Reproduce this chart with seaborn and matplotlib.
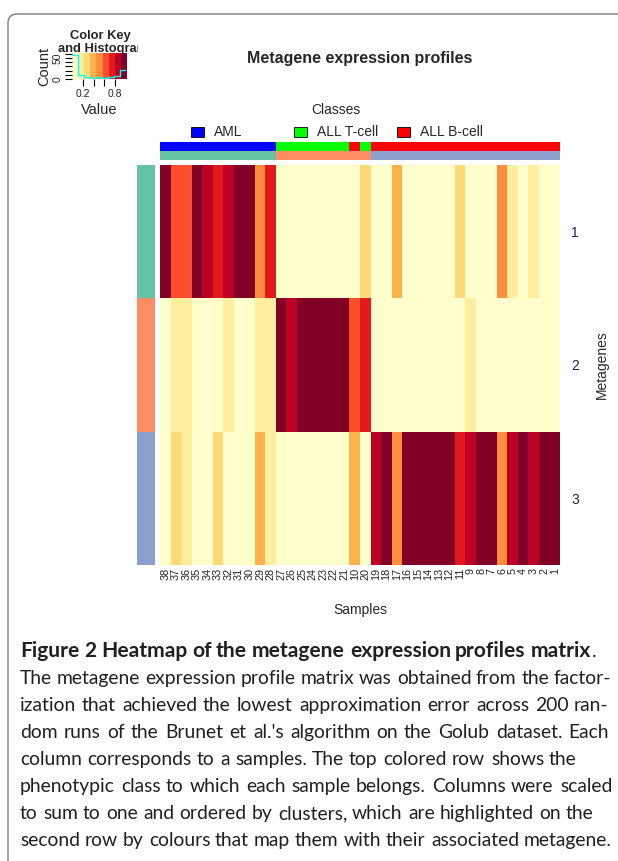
import numpy as np
import pandas as pd
import matplotlib
matplotlib.use("Agg")
import matplotlib.pyplot as plt
import seaborn as sns
from matplotlib.colors import ListedColormap
from matplotlib.patches import Rectangle, FancyBboxPatch
from matplotlib.transforms import Bbox, TransformedBbox

# ---------------- data ----------------
samples = ["38", "37", "36", "35", "34", "33", "32", "31", "30", "29", "28",
           "27", "26", "25", "24", "23", "22", "21", "10", "20",
           "19", "18", "17", "16", "15", "14", "13", "12", "11",
           "9", "8", "7", "6", "5", "4", "3", "2", "1"]
metagenes = ["1", "2", "3"]

metagene1 = [0.97, 0.61, 0.61, 0.97, 0.83, 0.72, 0.83, 0.97, 0.97, 0.50, 0.72,
             0.03, 0.03, 0.03, 0.03, 0.03, 0.03, 0.03, 0.03, 0.27,
             0.03, 0.03, 0.38, 0.03, 0.03, 0.03, 0.03, 0.03, 0.27,
             0.03, 0.03, 0.03, 0.50, 0.16, 0.03, 0.16, 0.03, 0.03]
metagene2 = [0.03, 0.16, 0.16, 0.03, 0.03, 0.03, 0.16, 0.03, 0.03, 0.16, 0.16,
             0.97, 0.83, 0.97, 0.97, 0.97, 0.97, 0.97, 0.61, 0.72,
             0.03, 0.03, 0.03, 0.03, 0.03, 0.03, 0.03, 0.03, 0.03,
             0.16, 0.03, 0.03, 0.03, 0.03, 0.03, 0.03, 0.03, 0.03]
metagene3 = [0.03, 0.27, 0.16, 0.03, 0.03, 0.27, 0.03, 0.03, 0.03, 0.38, 0.16,
             0.03, 0.03, 0.03, 0.03, 0.03, 0.03, 0.03, 0.38, 0.03,
             0.83, 0.97, 0.50, 0.97, 0.97, 0.97, 0.97, 0.97, 0.72,
             0.83, 0.97, 0.97, 0.50, 0.83, 0.97, 0.83, 0.97, 0.97]

classes = (["AML"] * 11 + ["ALL T-cell"] * 7 + ["ALL B-cell"] + ["ALL T-cell"]
           + ["ALL B-cell"] * 18)
clusters = [1] * 11 + [2] * 9 + [3] * 18
class_names = ["AML", "ALL T-cell", "ALL B-cell"]
class_colors = ["#0000FF", "#00FF00", "#FF0000"]
cluster_colors = ["#66C2A5", "#FC8D62", "#8DA0CB"]
ylorrd9 = ["#FFFFCC", "#FFEDA0", "#FED976", "#FEB24C", "#FD8D3C",
           "#FC4E2A", "#E31A1C", "#BD0026", "#800026"]

caption_bold = "Figure 2 Heatmap of the metagene expression profiles matrix"
caption_lines = [
    "The metagene expression profile matrix was obtained from the factor-",
    "ization that achieved the lowest approximation error across 200 ran-",
    "dom runs of the Brunet et al.'s algorithm on the Golub dataset. Each",
    "column corresponds to a samples. The top colored row shows the",
    "phenotypic class to which each sample belongs. Columns were scaled",
    "to sum to one and ordered by clusters, which are highlighted on the",
    "second row by colours that map them with their associated metagene.",
]

# ---------------- figure ----------------
sns.set_theme(style="white")
plt.rcParams["font.family"] = ["Liberation Sans", "DejaVu Sans"]
W, H = 618, 861
fig = plt.figure(figsize=(W / 100, H / 100), dpi=100)
fig.patch.set_facecolor("white")


def px_axes(x0, y0, x1, y1, **kw):
    return fig.add_axes([x0 / W, 1 - y1 / H, (x1 - x0) / W, (y1 - y0) / H], **kw)


# overlay in pixel coordinates (for frame, titles, legend, caption)
ov = px_axes(0, 0, W, H)
ov.set_xlim(0, W)
ov.set_ylim(H, 0)
ov.axis("off")
ov.set_zorder(-1)

frame = FancyBboxPatch((8, 14), 800, 1000, boxstyle="round,pad=0,rounding_size=9",
                       fc="none", ec="#7a7a7a", lw=1.0)
ov.add_patch(frame)

cmap = ListedColormap(ylorrd9)

# main heatmap
ax = px_axes(160, 165, 560, 565)
df = pd.DataFrame([metagene1, metagene2, metagene3], index=metagenes, columns=samples)
sns.heatmap(df, cmap=cmap, vmin=0, vmax=1, cbar=False, ax=ax,
            xticklabels=True, yticklabels=True)
ax.tick_params(length=0)
ax.set_xticklabels(samples, rotation=90, fontsize=7.8, va="top", ha="center")
ax.tick_params(axis="x", pad=2)
ax.yaxis.tick_right()
ax.set_yticklabels(metagenes, rotation=0, fontsize=10)
ax.tick_params(axis="y", pad=8)
ax.set_xlabel("Samples", fontsize=10)
ax.xaxis.set_label_coords(0.5, -(610 - 565) / 400)
ax.xaxis.label.set_va("center")
ax.yaxis.set_label_position("right")
ax.set_ylabel("Metagenes", fontsize=10, rotation=90)
ax.yaxis.set_label_coords((602 - 160) / 400, 0.5)
ax.yaxis.label.set_va("center")

# column annotations (classes, clusters)
aax = px_axes(160, 142, 560, 160)
codes = np.array([[class_names.index(c) for c in classes],
                  [2 + k for k in clusters]])
sns.heatmap(pd.DataFrame(codes, columns=samples), cmap=ListedColormap(class_colors + cluster_colors),
            vmin=-0.5, vmax=5.5, cbar=False, ax=aax, xticklabels=False, yticklabels=False)

# row side colors
rax = px_axes(137, 165, 155, 565)
sns.heatmap(pd.DataFrame({"c": [0, 1, 2]}, index=metagenes), cmap=ListedColormap(cluster_colors),
            vmin=-0.5, vmax=2.5, cbar=False, ax=rax, xticklabels=False, yticklabels=False)

# color key + histogram
kax = px_axes(72, 53, 126, 79)
all_vals = np.concatenate([metagene1, metagene2, metagene3])
kax.imshow(np.arange(9).reshape(1, -1), cmap=cmap, extent=(0, 1, 0, 62), aspect="auto",
           origin="lower", vmin=-0.5, vmax=8.5)
sns.histplot(x=all_vals, bins=np.linspace(0, 1, 10), element="step", fill=False,
             color="cyan", lw=1.0, ax=kax)
kax.set_xlim(0, 1)
kax.set_ylim(0, 62)
for s in kax.spines.values():
    s.set_visible(False)
kax.set_xticks([0.2, 0.4, 0.6, 0.8])
kax.set_xticklabels(["0.2", "", "", "0.8"], fontsize=7.5)
kax.set_yticks([0, 10, 20, 30, 40, 50, 60])
kax.set_yticklabels(["0", "", "", "", "", "50", ""], fontsize=7.5, rotation=90, va="center")
kax.tick_params(axis="both", length=5, width=0.8, color="black", pad=2,
                bottom=True, left=True)
kax.set_xlabel("Value", fontsize=10.5)
kax.xaxis.set_label_coords(0.5, -(110 - 79) / 26)
kax.xaxis.label.set_va("center")
kax.set_ylabel("Count", fontsize=10.5)
kax.yaxis.set_label_coords((44 - 72) / 54, 0.5)
kax.yaxis.label.set_va("center")

ov.text(100, 36, "Color Key", fontsize=9.3, fontweight="bold", ha="center", va="center")
t_hist = ov.text(103, 49, "and Histogram", fontsize=9.3, fontweight="bold", ha="center",
                 va="center")
t_hist.set_clip_box(TransformedBbox(Bbox([[0, 0], [138, H]]), ov.transData))
t_hist.set_clip_on(True)

# main title
ov.text(360, 58, "Metagene expression profiles", fontsize=11.5, fontweight="bold",
        ha="center", va="center")

# legend for classes
ov.text(336, 110, "Classes", fontsize=10, ha="center", va="center")
leg_x = [191, 294, 397]
for x, name, col in zip(leg_x, class_names, class_colors):
    ov.add_patch(Rectangle((x, 127), 13, 10, fc=col, ec="black", lw=0.6))
    ov.text(x + 23, 132, name, fontsize=10, ha="left", va="center")

# caption
fig.canvas.draw()
renderer = fig.canvas.get_renderer()
cap_family = ["Lato", "DejaVu Sans"]


def text_width(s, fs, weight):
    t = ov.text(0, 0, s, fontsize=fs, fontweight=weight, family=cap_family)
    w = t.get_window_extent(renderer).width
    t.remove()
    return w


def place_words(line, x0, target, y, fs, weight):
    words = line.split(" ")
    texts = [ov.text(0, y, w, fontsize=fs, fontweight=weight, family=cap_family,
                     ha="left", va="baseline", color="#231f20") for w in words]
    widths = [t.get_window_extent(renderer).width for t in texts]
    gap = (target - sum(widths)) / max(len(words) - 1, 1)
    x = x0
    for t, w in zip(texts, widths):
        t.set_x(round(x))
        x += w + gap
    return x - gap


fs = 12.0 * 592 / text_width(caption_lines[0], 12.0, "normal")
wb = text_width(caption_bold, fs, "bold")
fs_b = fs * min(1.15, 571 / wb)
xend = place_words(caption_bold, 20, 571, 657, fs_b, "bold")
ov.text(xend + 1, 657, ".", fontsize=fs, family=cap_family, ha="left", va="baseline",
        color="#231f20")
targets = [592, 589, 589, 557, 592, 574, 592]
for i, (line, tw) in enumerate(zip(caption_lines, targets)):
    place_words(line, 20, tw, 684 + 27 * i, fs, "normal")

fig.savefig("out.png", dpi=100, facecolor="white")
